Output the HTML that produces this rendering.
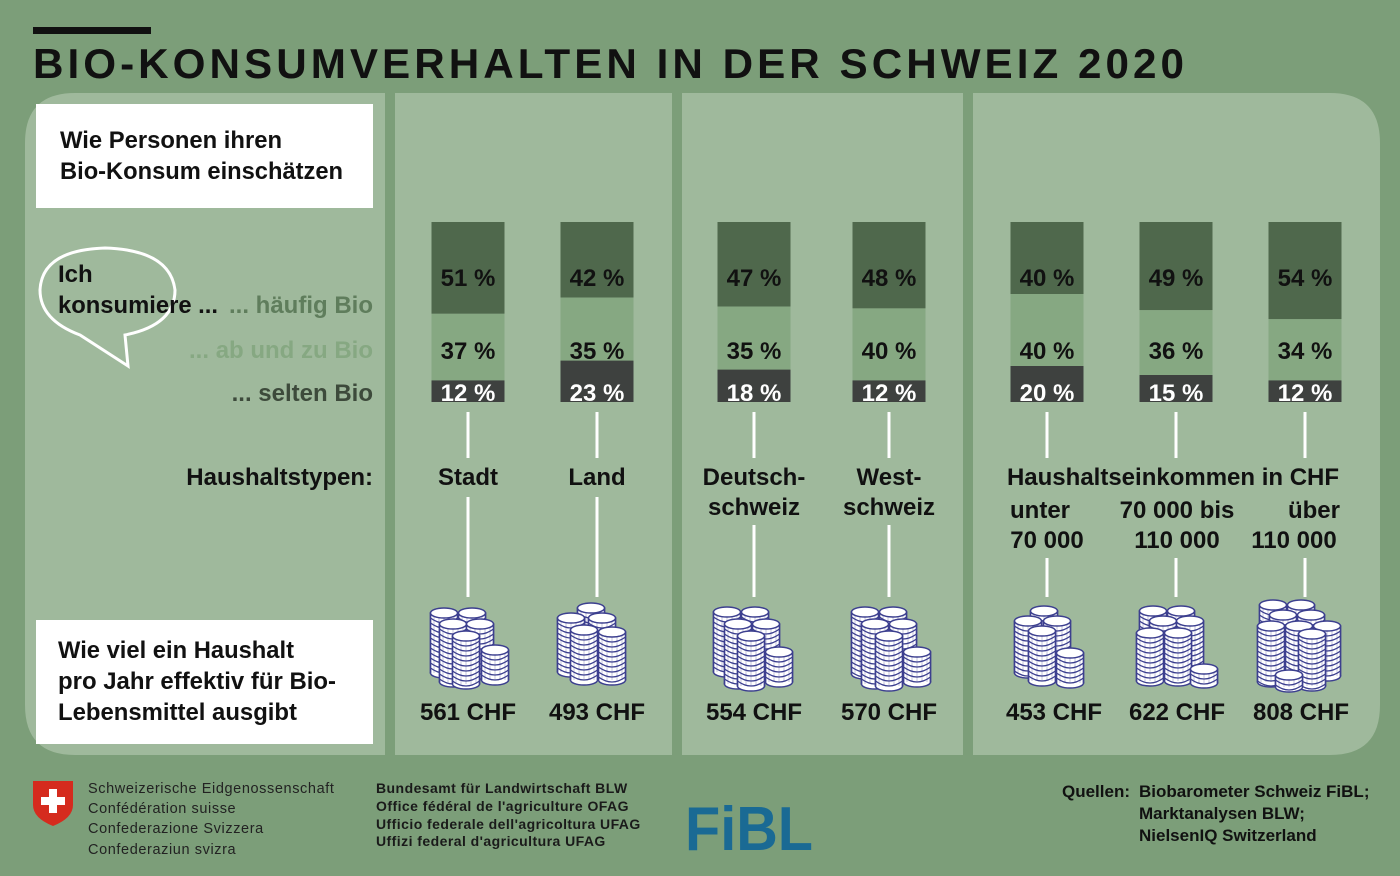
<!DOCTYPE html>
<html><head><meta charset="utf-8"><style>
html,body{margin:0;padding:0;background:#7c9e79;}
svg{display:block;font-family:"Liberation Sans",sans-serif;}
</style></head><body>
<svg id="s" width="1400" height="876" viewBox="0 0 1400 876" xmlns="http://www.w3.org/2000/svg">
<rect width="1400" height="876" fill="#7c9e79"/>
<rect x="33" y="27" width="118" height="7" fill="#111"/>
<text x="33" y="78" font-size="42" font-weight="bold" fill="#111" textLength="1155" lengthAdjust="spacingAndGlyphs" letter-spacing="4">BIO-KONSUMVERHALTEN IN DER SCHWEIZ 2020</text>
<path d="M75 93 H1330 Q1380 93 1380 143 V705 Q1380 755 1330 755 H75 Q25 755 25 705 V143 Q25 93 75 93 Z" fill="#9fb99c"/>
<rect x="385" y="93" width="10" height="662" fill="#7c9e79"/>
<rect x="672" y="93" width="10" height="662" fill="#7c9e79"/>
<rect x="963" y="93" width="10" height="662" fill="#7c9e79"/>
<rect x="36" y="104" width="337" height="104" fill="#fff"/>
<text font-size="24" font-weight="bold" fill="#111"><tspan x="60" y="148" textLength="222" lengthAdjust="spacingAndGlyphs">Wie Personen ihren</tspan><tspan x="60" y="179" textLength="283" lengthAdjust="spacingAndGlyphs">Bio-Konsum einschätzen</tspan></text>
<rect x="36" y="620" width="337" height="124" fill="#fff"/>
<text font-size="24" font-weight="bold" fill="#111"><tspan x="58" y="658" textLength="236" lengthAdjust="spacingAndGlyphs">Wie viel ein Haushalt</tspan><tspan x="58" y="689" textLength="278" lengthAdjust="spacingAndGlyphs">pro Jahr effektiv für Bio-</tspan><tspan x="58" y="720" textLength="239" lengthAdjust="spacingAndGlyphs">Lebensmittel ausgibt</tspan></text>
<path d="M80 335 Q40 320 40 290 Q42 250 105 248 Q170 250 175 290 Q175 325 125 335 L128 366 Z" fill="none" stroke="#fff" stroke-width="3"/>
<text font-size="24" font-weight="bold" fill="#111"><tspan x="58" y="282">Ich</tspan><tspan x="58" y="313" textLength="160" lengthAdjust="spacingAndGlyphs">konsumiere ...</tspan></text>
<text x="373" y="313" font-size="24" font-weight="bold" fill="#5f7d5c" text-anchor="end">... häufig Bio</text>
<text x="373" y="358" font-size="24" font-weight="bold" fill="#86a882" text-anchor="end">... ab und zu Bio</text>
<text x="373" y="401" font-size="24" font-weight="bold" fill="#3d4a3b" text-anchor="end">... selten Bio</text>
<text x="373" y="485" font-size="24" font-weight="bold" fill="#111" text-anchor="end">Haushaltstypen:</text>
<g id="bars"></g>
<g font-size="24" font-weight="bold" fill="#111" text-anchor="middle">
<text x="468" y="485">Stadt</text><text x="597" y="485">Land</text>
<text x="754" y="485">Deutsch-</text><text x="754" y="515">schweiz</text>
<text x="889" y="485">West-</text><text x="889" y="515">schweiz</text>
<text x="1173" y="485">Haushaltseinkommen in CHF</text>
<text x="1040" y="518">unter</text><text x="1047" y="548">70 000</text>
<text x="1177" y="518">70 000 bis</text><text x="1177" y="548">110 000</text>
<text x="1314" y="518">über</text><text x="1294" y="548">110 000</text>
<text x="468" y="720">561 CHF</text><text x="597" y="720">493 CHF</text>
<text x="754" y="720">554 CHF</text><text x="889" y="720">570 CHF</text>
<text x="1054" y="720">453 CHF</text><text x="1177" y="720">622 CHF</text><text x="1301" y="720">808 CHF</text>
</g>
<g id="coins"></g>
<path d="M33 781 H73 V805 Q73 818 53 826 Q33 818 33 805 Z" fill="#d52b1e"/>
<rect x="49" y="789" width="8" height="24" fill="#fff"/><rect x="41" y="797" width="24" height="8" fill="#fff"/>
<g font-size="14.5" fill="#222" letter-spacing="0.6"><text x="88" y="793">Schweizerische Eidgenossenschaft</text><text x="88" y="813">Confédération suisse</text><text x="88" y="833">Confederazione Svizzera</text><text x="88" y="854">Confederaziun svizra</text></g>
<g font-size="14" font-weight="bold" fill="#1a1a1a" letter-spacing="0.45"><text x="376" y="793">Bundesamt für Landwirtschaft BLW</text><text x="376" y="811">Office fédéral de l'agriculture OFAG</text><text x="376" y="829">Ufficio federale dell'agricoltura UFAG</text><text x="376" y="846">Uffizi federal d'agricultura UFAG</text></g>
<text x="685" y="850" font-size="62" font-weight="bold" fill="#1a6a94" textLength="128" lengthAdjust="spacingAndGlyphs">FiBL</text>
<g font-size="17" font-weight="bold" fill="#111"><text x="1062" y="797">Quellen:</text><text x="1139" y="797">Biobarometer Schweiz FiBL;</text><text x="1139" y="819">Marktanalysen BLW;</text><text x="1139" y="841">NielsenIQ Switzerland</text></g>
</svg>
<script>
var NS="http://www.w3.org/2000/svg";
function el(p,t,a,txt){var e=document.createElementNS(NS,t);for(var k in a)e.setAttribute(k,a[k]);if(txt)e.textContent=txt;p.appendChild(e);return e;}
var bars=document.getElementById("bars");
var D=[[468,[51,37,12],458,497],[597,[42,35,23],458,497],[754,[47,35,18],458,525],[889,[48,40,12],458,525],[1047,[40,40,20],458,558],[1176,[49,36,15],458,558],[1305,[54,34,12],458,558]];
D.forEach(function(d){var cx=d[0],v=d[1],x=cx-36.5,y=222;
 var h0=v[0]*1.8,h1=v[1]*1.8;
 el(bars,"rect",{x:x,y:y,width:73,height:h0,fill:"#4f684c"});
 el(bars,"rect",{x:x,y:y+h0,width:73,height:h1,fill:"#86a882"});
 el(bars,"rect",{x:x,y:y+h0+h1,width:73,height:402-(y+h0+h1),fill:"#3e413f"});
 el(bars,"text",{x:cx,y:286,"font-size":24,"font-weight":"bold","text-anchor":"middle",fill:"#111"},v[0]+" %");
 el(bars,"text",{x:cx,y:359,"font-size":24,"font-weight":"bold","text-anchor":"middle",fill:"#111"},v[1]+" %");
 el(bars,"text",{x:cx,y:401,"font-size":24,"font-weight":"bold","text-anchor":"middle",fill:"#fff"},v[2]+" %");
 el(bars,"rect",{x:cx-1.5,y:412,width:3,height:d[2]-412,fill:"#fff"});
 el(bars,"rect",{x:cx-1.5,y:d[3],width:3,height:597-d[3],fill:"#fff"});
});
var coins=document.getElementById("coins");
function cyl(x,top,h){var g=el(coins,"g",{});var rx=13.5,ry=5;
 el(g,"rect",{x:x-rx,y:top,width:2*rx,height:h,fill:"#fff",stroke:"#3c3f8f","stroke-width":1.5});
 el(g,"ellipse",{cx:x,cy:top+h,rx:rx,ry:ry,fill:"#fff",stroke:"#3c3f8f","stroke-width":1.5});
 el(g,"rect",{x:x-rx+0.75,y:top,width:2*rx-1.5,height:h,fill:"#fff"});
 for(var yy=top+5;yy<top+h;yy+=5)el(g,"path",{d:"M"+(x-rx)+" "+yy+" Q"+x+" "+(yy+2*ry)+" "+(x+rx)+" "+yy,fill:"none",stroke:"#3c3f8f","stroke-width":1.3});
 for(var i=-2;i<=2;i++)el(g,"line",{x1:x+i*5,y1:top,x2:x+i*5,y2:top+h,stroke:"#3c3f8f","stroke-width":0.6,opacity:0.5});
 el(g,"line",{x1:x-rx,y1:top,x2:x-rx,y2:top+h,stroke:"#3c3f8f","stroke-width":1.5});
 el(g,"line",{x1:x+rx,y1:top,x2:x+rx,y2:top+h,stroke:"#3c3f8f","stroke-width":1.5});
 el(g,"ellipse",{cx:x,cy:top,rx:rx,ry:ry,fill:"#fff",stroke:"#3c3f8f","stroke-width":1.5});
}
var C={
 468:[[-24,613,60],[4,613,55],[-15,624,58],[12,624,50],[-2,636,48],[27,650,30]],
 597:[[-6,608,52],[-26,618,54],[5,618,50],[-13,630,50],[15,632,48]],
 754:[[-27,612,60],[1,612,58],[-16,624,60],[12,624,52],[-3,636,50],[25,652,30]],
 889:[[-24,612,62],[4,612,58],[-14,624,60],[14,624,52],[0,636,50],[28,652,30]],
 1054:[[-10,611,40],[-26,621,52],[3,621,48],[-12,631,50],[16,653,30]],
 1177:[[-24,611,50],[4,611,52],[-14,621,55],[13,621,50],[-27,633,48],[1,633,48],[27,669,14]],
 1301:[[-28,605,48],[0,605,48],[-18,615,50],[10,615,50],[-30,626,56],[-2,626,56],[26,626,50],[11,634,52],[-12,675,12]]
};
for(var k in C)C[k].forEach(function(c){cyl(+k+c[0],c[1],c[2]);});
</script>
</body></html>
